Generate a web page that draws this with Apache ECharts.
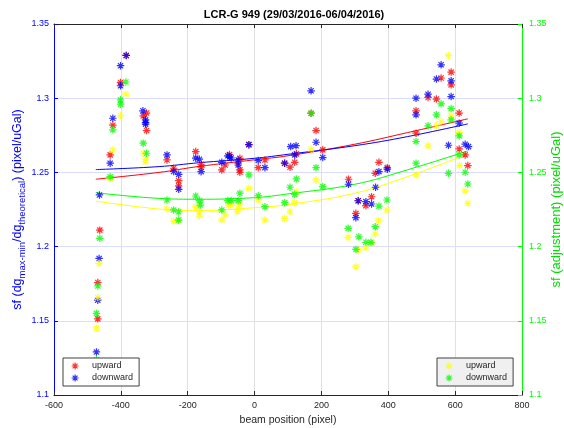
<!DOCTYPE html>
<html>
<head>
<meta charset="utf-8">
<script src="https://cdn.jsdelivr.net/npm/echarts@6/dist/echarts.min.js"></script>
<style>
  html, body { margin: 0; padding: 0; background: #fff; }
  #chart { width: 564px; height: 428px; }
</style>
</head>
<body>
<div id="chart"></div>
<script>
// sf (dg max-min / dg theoretical), left axis
const upwardDg = [
  [-384, 1.3288], [-401, 1.3106], [-424, 1.2818], [-432, 1.2618], [-463, 1.2111],
  [-469, 1.1758], [-469, 1.1513], [-323, 1.29], [-333, 1.2881], [-323, 1.2782],
  [-262, 1.2584], [-242, 1.2528], [-227, 1.2444], [-227, 1.2409], [-176, 1.264],
  [-160, 1.2555], [-160, 1.2535], [-98, 1.2517], [-88, 1.255], [-75, 1.262],
  [-44, 1.2595], [-49, 1.2562], [-44, 1.2517], [-44, 1.2501], [-17, 1.2687],
  [11, 1.2532], [31, 1.2584], [90, 1.2562], [106, 1.2535], [120, 1.2568],
  [125, 1.2625], [169, 1.2899], [184, 1.2782], [204, 1.2652], [281, 1.2454],
  [303, 1.2224], [310, 1.2309], [333, 1.2276], [350, 1.2336], [361, 1.2494],
  [372, 1.2568], [397, 1.2532], [483, 1.2915], [483, 1.2764], [519, 1.3005],
  [544, 1.2994], [558, 1.3136], [588, 1.3176], [588, 1.309], [612, 1.29],
  [612, 1.2658], [630, 1.2618], [638, 1.2546]
];
const downwardDg = [
  [-384, 1.3288], [-401, 1.3219], [-401, 1.3084], [-424, 1.2865], [-432, 1.2562],
  [-464, 1.2348], [-465, 1.192], [-469, 1.1639], [-473, 1.129], [-334, 1.2915],
  [-326, 1.2854], [-326, 1.2836], [-326, 1.2825], [-262, 1.2618], [-242, 1.2506],
  [-227, 1.2487], [-227, 1.2386], [-176, 1.2596], [-165, 1.2589], [-160, 1.2505],
  [-98, 1.2568], [-80, 1.2612], [-75, 1.2605], [-70, 1.2597], [-49, 1.2584],
  [-49, 1.255], [-17, 1.2687], [11, 1.258], [31, 1.2532], [90, 1.2562],
  [108, 1.2674], [124, 1.268], [120, 1.2618], [169, 1.305], [184, 1.2703],
  [204, 1.26], [281, 1.242], [303, 1.2195], [310, 1.2309], [333, 1.2303],
  [350, 1.2287], [362, 1.24], [372, 1.2505], [397, 1.2522], [483, 1.3],
  [483, 1.2888], [519, 1.3027], [544, 1.3129], [558, 1.3225], [588, 1.3117],
  [588, 1.3011], [612, 1.2832], [580, 1.2683], [630, 1.269], [640, 1.2674]
];
// sf (adjustment), right axis
const upwardAdj = [
  [-385, 1.3027], [-401, 1.2883], [-424, 1.2651], [-432, 1.246], [-465, 1.1887],
  [-469, 1.1657], [-473, 1.145], [-475, 1.1155], [-333, 1.2629], [-326, 1.259],
  [-326, 1.257], [-262, 1.2253], [-242, 1.2172], [-230, 1.2175], [-176, 1.2269],
  [-165, 1.2235], [-165, 1.2206], [-98, 1.2179], [-88, 1.2213], [-78, 1.228],
  [-70, 1.228], [-49, 1.226], [-44, 1.229], [-52, 1.2235], [-17, 1.2393],
  [11, 1.2314], [31, 1.2179], [90, 1.219], [106, 1.2235], [120, 1.2296],
  [125, 1.237], [169, 1.2656], [184, 1.2449], [280, 1.2062], [303, 1.1864],
  [312, 1.1977], [333, 1.1992], [350, 1.2026], [361, 1.2085], [371, 1.2174],
  [396, 1.2247], [483, 1.2483], [519, 1.2679], [544, 1.2814], [558, 1.2843],
  [580, 1.3288], [588, 1.2881], [612, 1.2768], [613, 1.2546], [630, 1.2375],
  [638, 1.2292]
];
const downwardAdj = [
  [-385, 1.3109], [-401, 1.2989], [-401, 1.296], [-424, 1.2787], [-432, 1.2471],
  [-463, 1.2056], [-469, 1.1735], [-473, 1.155], [-473, 1.1238], [-333, 1.2697],
  [-323, 1.2629], [-262, 1.2314], [-242, 1.2247], [-227, 1.2235], [-227, 1.2179],
  [-176, 1.2341], [-165, 1.231], [-162, 1.228], [-98, 1.2247], [-80, 1.231],
  [-70, 1.231], [-49, 1.231], [-44, 1.236], [-17, 1.2483], [11, 1.2343],
  [31, 1.2269], [90, 1.2296], [106, 1.24], [120, 1.2352], [125, 1.2456],
  [169, 1.2899], [184, 1.2532], [204, 1.2404], [280, 1.2123], [303, 1.1981],
  [312, 1.2066], [333, 1.2029], [348, 1.2029], [361, 1.2134], [372, 1.2273],
  [396, 1.2314], [483, 1.2708], [483, 1.2562], [519, 1.2814], [544, 1.2888],
  [558, 1.2962], [588, 1.293], [588, 1.2854], [580, 1.2494], [612, 1.2746],
  [612, 1.2618], [630, 1.2501], [638, 1.2422]
];

// fitted curves
const fitX = [-475, -286, -167, 0, 100, 300, 457, 638];
const fitUpDg = [1.2454, 1.2500, 1.2540, 1.2585, 1.2612, 1.2690, 1.2768, 1.2861];
const fitDownDg = [1.2519, 1.2539, 1.2565, 1.2595, 1.2622, 1.2680, 1.2741, 1.2827];
const fitUpAdj = [1.2307, 1.2253, 1.2242, 1.2262, 1.2283, 1.2360, 1.2471, 1.2625];
const fitDownAdj = [1.2363, 1.2325, 1.2319, 1.2330, 1.2355, 1.2420, 1.2517, 1.2645];

const xTicks = [-600, -400, -200, 0, 200, 400, 600, 800];
const yTicks = [1.1, 1.15, 1.2, 1.25, 1.3, 1.35];

const FONT = 'Liberation Sans';
const ASTERISK = 'path://M5,0L5,10M0,5L10,5M1.5,1.5L8.5,8.5M1.5,8.5L8.5,1.5';
const DARK = '#262626';

function pairs(xs, ys) {
  return xs.map((x, i) => [x, ys[i]]);
}

function scatter(name, data, color, yAxisIndex) {
  return {
    name: name,
    type: 'scatter',
    yAxisIndex: yAxisIndex,
    data: data,
    symbol: ASTERISK,
    symbolSize: 7.5,
    itemStyle: { color: color, borderColor: color, borderWidth: 1.2 },
    z: 3,
  };
}

function fitLine(name, ys, color, yAxisIndex) {
  return {
    name: name,
    type: 'line',
    yAxisIndex: yAxisIndex,
    data: pairs(fitX, ys),
    smooth: 0.4,
    showSymbol: false,
    lineStyle: { color: color, width: 1 },
    z: 2,
  };
}

function legendItems(names, color) {
  return names.map((n) => ({
    name: n,
    icon: ASTERISK,
    itemStyle: { color: color[n], borderColor: color[n], borderWidth: 1.2 },
  }));
}

const chart = echarts.init(document.getElementById('chart'));

const legendBase = {
  orient: 'vertical',
  top: 358,
  itemWidth: 24,
  itemHeight: 7,
  itemGap: 2,
  padding: [3, 6, 3, 8],
  borderColor: '#404040',
  borderWidth: 1,
  borderRadius: 0,
  selectedMode: false,
  textStyle: { fontFamily: FONT, fontSize: 9, color: DARK, lineHeight: 10 },
  formatter: (name) => name.split(' ')[0],
};

const colors = {
  'upward (dg)': '#ff0000',
  'downward (dg)': '#0000ff',
  'upward (adj)': '#ffff00',
  'downward (adj)': '#00ff00',
};

chart.setOption({
  animation: false,
  backgroundColor: '#fff',
  title: {
    text: 'LCR-G 949 (29/03/2016-06/04/2016)',
    left: 289,
    textAlign: 'center',
    top: 4,
    textStyle: { fontFamily: FONT, fontSize: 11, fontWeight: 'bold', color: '#000' },
  },
  grid: { left: 54, right: 42, top: 24, bottom: 33, outerBoundsMode: 'none' },
  legend: [
    Object.assign({}, legendBase, {
      left: 63,
      data: legendItems(['upward (dg)', 'downward (dg)'], colors),
      backgroundColor: '#fff',
    }),
    Object.assign({}, legendBase, {
      left: 437,
      data: legendItems(['upward (adj)', 'downward (adj)'], colors),
      backgroundColor: '#f0f0f0',
    }),
  ],
  xAxis: [
    {
      type: 'value',
      position: 'bottom',
      min: xTicks[0],
      max: xTicks[xTicks.length - 1],
      interval: 200,
      name: 'beam position (pixel)',
      nameLocation: 'middle',
      nameGap: 20,
      nameMoveOverlap: false,
      nameTextStyle: { fontFamily: FONT, fontSize: 10.5, color: DARK },
      axisLine: { onZero: false, lineStyle: { color: DARK } },
      axisTick: { inside: true, length: 4, lineStyle: { color: DARK } },
      axisLabel: { fontFamily: FONT, fontSize: 9, color: DARK, margin: 6 },
      splitLine: { lineStyle: { color: '#e0e0e0', width: 1 } },
    },
    {
      type: 'value',
      position: 'top',
      min: xTicks[0],
      max: xTicks[xTicks.length - 1],
      interval: 200,
      axisLine: { onZero: false, lineStyle: { color: DARK } },
      axisTick: { inside: true, length: 4, lineStyle: { color: DARK } },
      axisLabel: { show: false },
      splitLine: { show: false },
    },
  ],
  yAxis: [
    {
      type: 'value',
      position: 'left',
      min: yTicks[0],
      max: yTicks[yTicks.length - 1],
      interval: 0.05,
      name: 'sf (dg{s|max-min}/dg{s|theoretical}) (pixel/uGal)',
      nameLocation: 'middle',
      nameRotate: 90,
      nameGap: 27,
      nameMoveOverlap: false,
      nameTextStyle: {
        fontFamily: FONT, fontSize: 12.5, color: '#0000ff',
        rich: { s: { fontFamily: FONT, fontSize: 9.5, color: '#0000ff', padding: [8, 0, 0, 0] } },
      },
      axisLine: { show: true, onZero: false, lineStyle: { color: '#0000ff' } },
      axisTick: { show: true, inside: true, length: 4, lineStyle: { color: '#0000ff' } },
      axisLabel: { fontFamily: FONT, fontSize: 9, color: '#0000ff', margin: 5 },
      splitLine: { lineStyle: { color: '#dcdcff', width: 1 } },
    },
    {
      type: 'value',
      position: 'right',
      min: yTicks[0],
      max: yTicks[yTicks.length - 1],
      interval: 0.05,
      name: 'sf (adjustment) (pixel/uGal)',
      nameLocation: 'middle',
      nameRotate: 90,
      nameGap: 28,
      nameMoveOverlap: false,
      nameTextStyle: { fontFamily: FONT, fontSize: 13, color: '#00dd00' },
      axisLine: { show: true, onZero: false, lineStyle: { color: '#00ff00' } },
      axisTick: { show: true, inside: true, length: 4, lineStyle: { color: '#00ff00' } },
      axisLabel: { fontFamily: FONT, fontSize: 9, color: '#00ff00', margin: 7 },
      splitLine: { show: false },
    },
  ],
  series: [
    fitLine('fit up (dg)', fitUpDg, '#ff0000', 0),
    fitLine('fit down (dg)', fitDownDg, '#0000ff', 0),
    fitLine('fit up (adj)', fitUpAdj, '#ffff00', 1),
    fitLine('fit down (adj)', fitDownAdj, '#00ff00', 1),
    scatter('upward (dg)', upwardDg, colors['upward (dg)'], 0),
    scatter('downward (dg)', downwardDg, colors['downward (dg)'], 0),
    scatter('upward (adj)', upwardAdj, colors['upward (adj)'], 1),
    scatter('downward (adj)', downwardAdj, colors['downward (adj)'], 1),
  ],
});
</script>
</body>
</html>
